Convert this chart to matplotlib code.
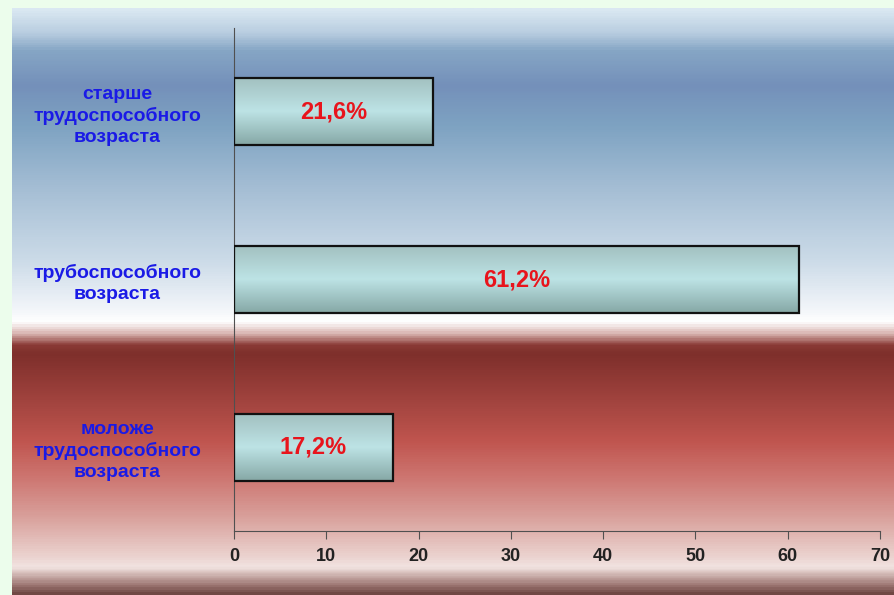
import numpy as np
import matplotlib.pyplot as plt
from matplotlib.colors import LinearSegmentedColormap

# Данные диаграммы
categories = ['моложе\nтрудоспособного\nвозраста',
              'трубоспособного\nвозраста',
              'старше\nтрудоспособного\nвозраста']
values = [17.2, 61.2, 21.6]
value_labels = ['17,2%', '61,2%', '21,6%']
x_ticks = [0, 10, 20, 30, 40, 50, 60, 70]

W, H = 895, 595

# Градиент фона (сверху вниз)
bg_stops = [
    (0.00, '#dae8f2'), (0.04, '#b8cde0'), (0.07, '#86a6c5'),
    (0.13, '#7490ba'), (0.20, '#7ea3c2'), (0.31, '#a6bfd5'),
    (0.43, '#ccdbe8'), (0.515, '#f3f6fa'), (0.535, '#ffffff'),
    (0.555, '#d8b4b0'), (0.575, '#8a3a35'), (0.59, '#7e2f2b'),
    (0.74, '#c0554f'), (0.80, '#cd7570'), (0.87, '#d9a19c'),
    (0.94, '#ecd5d2'), (0.955, '#f2e4e2'), (0.965, '#d8c0bc'),
    (0.985, '#a07a76'), (1.00, '#704844'),
]
bg_cmap = LinearSegmentedColormap.from_list('bg', bg_stops)

# Градиент столбцов (снизу вверх)
bar_cmap = LinearSegmentedColormap.from_list(
    'bar', [(0.0, '#86a8a6'), (0.5, '#bde3e5'), (1.0, '#a2c0c0')])

fig = plt.figure(figsize=(W / 100, H / 100), dpi=100, facecolor='#ecfdec')

bg = fig.add_axes([12 / W, 0, 1 - 12 / W, 1 - 8 / H], zorder=0)
bg.imshow(np.linspace(0, 1, 600).reshape(-1, 1), cmap=bg_cmap,
          aspect='auto', extent=[0, 1, 0, 1], origin='upper')
bg.axis('off')

ax = fig.add_axes([234 / W, 64 / H, (880 - 234) / W, (567 - 64) / H], zorder=1)
ax.patch.set_alpha(0)

y = np.arange(len(categories))
bars = ax.barh(y, values, height=0.4, facecolor='none',
               edgecolor='#111111', linewidth=1.6, zorder=3)

grad = np.linspace(0, 1, 100).reshape(-1, 1)
for b, lab in zip(bars, value_labels):
    x0, y0, w, h = b.get_x(), b.get_y(), b.get_width(), b.get_height()
    im = ax.imshow(grad, cmap=bar_cmap, aspect='auto', origin='lower',
                   extent=[x0, x0 + w, y0, y0 + h], zorder=2)
    im.set_clip_path(b)
    ax.text(x0 + w / 2, y0 + h / 2, lab, ha='center', va='center',
            color='#e8141c', fontsize=17, fontweight='bold',
            family='Liberation Sans', zorder=4)

ax.set_xlim(0, 70)
ax.set_ylim(-0.5, 2.5)
ax.set_aspect('auto')

ax.set_xticks(x_ticks)
ax.set_xticklabels([str(t) for t in x_ticks], fontsize=13, fontweight='bold',
                   color='#222222', family='Liberation Sans')
ax.tick_params(axis='x', length=6, width=0.8, color='#505050', pad=6)

ax.set_yticks(y)
ax.set_yticklabels(categories, fontsize=14, fontweight='bold', color='#1a1ae6',
                   family='Liberation Sans', ha='center', linespacing=1.3)
ax.tick_params(axis='y', length=0, pad=84)

for s in ['top', 'right']:
    ax.spines[s].set_visible(False)
for s in ['left', 'bottom']:
    ax.spines[s].set_color('#505050')
    ax.spines[s].set_linewidth(0.8)

fig.savefig('out.png', dpi=100, facecolor=fig.get_facecolor())
